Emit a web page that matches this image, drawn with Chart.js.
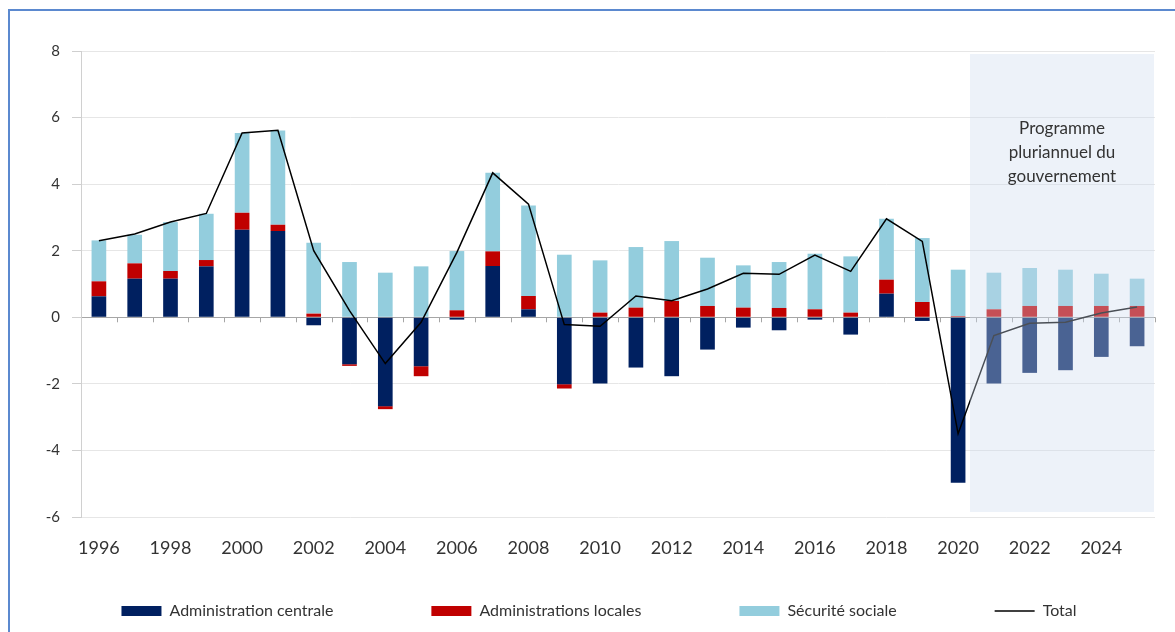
<!DOCTYPE html>
<html lang="fr">
<head>
<meta charset="utf-8">
<title>Solde public par sous-secteur</title>
<script src="https://cdn.jsdelivr.net/npm/chart.js@4.4.1/dist/chart.umd.min.js"></script>
<style>
  html, body { margin: 0; padding: 0; background: #fff; }
  #wrap { position: relative; width: 1175px; height: 632px; overflow: hidden; }
  #frame {
    position: absolute; left: 8px; top: 9px; width: 1200px; height: 700px;
    border-left: 2px solid #5b89cf; border-top: 2px solid #5b89cf;
    pointer-events: none;
  }
  canvas { position: absolute; left: 0; top: 0; }
</style>
</head>
<body>
<div id="wrap">
  <canvas id="chart" width="1175" height="632"></canvas>
  <div id="frame"></div>
</div>
<script>
// ── Data ──
const years = ["1996", "1997", "1998", "1999", "2000", "2001", "2002", "2003", "2004", "2005",
               "2006", "2007", "2008", "2009", "2010", "2011", "2012", "2013", "2014", "2015",
               "2016", "2017", "2018", "2019", "2020", "2021", "2022", "2023", "2024", "2025"];

const adminCentrale = [0.63, 1.16, 1.16, 1.53, 2.63, 2.59, -0.24, -1.41, -2.67, -1.47,
                       -0.07, 1.54, 0.24, -2.01, -1.99, -1.51, -1.77, -0.97, -0.31, -0.39,
                       -0.07, -0.52, 0.71, -0.11, -4.97, -1.99, -1.67, -1.59, -1.19, -0.87];

const adminLocales  = [0.45, 0.46, 0.23, 0.19, 0.51, 0.19, 0.11, -0.05, -0.09, -0.30,
                       0.21, 0.44, 0.40, -0.13, 0.14, 0.29, 0.49, 0.34, 0.29, 0.28,
                       0.24, 0.14, 0.42, 0.46, 0.03, 0.24, 0.34, 0.34, 0.34, 0.34];

const securiteSociale = [1.23, 0.86, 1.47, 1.39, 2.40, 2.83, 2.13, 1.66, 1.34, 1.53,
                         1.78, 2.36, 2.72, 1.88, 1.57, 1.82, 1.80, 1.45, 1.27, 1.38,
                         1.67, 1.69, 1.83, 1.92, 1.40, 1.10, 1.14, 1.09, 0.97, 0.82];

const total = [2.30, 2.50, 2.86, 3.12, 5.54, 5.62, 2.00, 0.20, -1.39, -0.15,
               1.95, 4.34, 3.40, -0.22, -0.27, 0.64, 0.50, 0.85, 1.32, 1.29,
               1.87, 1.38, 2.96, 2.28, -3.50, -0.55, -0.18, -0.15, 0.13, 0.31];

const yTicks = [-6, -4, -2, 0, 2, 4, 6, 8];

const firstProjection = "2021";
const projectionText  = ["Programme", "pluriannuel du", "gouvernement"];

// ── Colours ──
const NAVY  = "#002060";
const RED   = "#c00000";
const AQUA  = "#93cddd";
const TEXT  = "#333333";

// ── Tick marks along the zero line ──
const zeroTicks = {
  id: "zeroTicks",
  beforeDatasetsDraw(chart) {
    const x = chart.scales.x, y = chart.scales.y;
    const y0 = y.getPixelForValue(0);
    const step = x.getPixelForValue(1) - x.getPixelForValue(0);
    const ctx = chart.ctx;
    ctx.save();
    ctx.strokeStyle = "#a6a6a6";
    ctx.lineWidth = 1;
    ctx.beginPath();
    for (let i = 1; i <= years.length; i++) {
      const px = Math.round(x.getPixelForValue(i) - step / 2) + 0.5;
      ctx.moveTo(px, y0);
      ctx.lineTo(px, y0 + 5);
    }
    ctx.stroke();
    ctx.restore();
  }
};

// ── Shaded projection window + its label ──
const projection = {
  id: "projection",
  afterDatasetsDraw(chart) {
    const x = chart.scales.x, y = chart.scales.y;
    const idx = years.indexOf(firstProjection);
    const left  = (x.getPixelForValue(idx - 1) + x.getPixelForValue(idx)) / 2 - 6;
    const right = chart.chartArea.right - 1;
    const top   = y.getPixelForValue(y.max) + 3;
    const bot   = y.getPixelForValue(y.min) - 5;
    const ctx = chart.ctx;
    ctx.save();
    ctx.fillStyle = "rgba(205,218,238,0.36)";
    ctx.fillRect(left, top, right - left, bot - top);
    ctx.fillStyle = TEXT;
    ctx.font = "17px Lato";
    ctx.textAlign = "center";
    ctx.textBaseline = "middle";
    const cx = (left + right) / 2;
    projectionText.forEach((line, i) => {
      ctx.fillText(line, cx, top + 75 + i * 24);
    });
    ctx.restore();
  }
};

// ── Legend: wide spacing on one row, placed under the axis labels ──
const LEGEND_PAD = 98;
const legendLayout = {
  id: "legendLayout",
  beforeUpdate(chart) {
    const lg = chart.legend;
    if (!lg || lg._wrapped) return;
    const fit = lg.fit;
    lg.fit = function () {
      this.maxWidth = 3000;
      fit.call(this);
      this.width = chart.width;
      this.height = 40;
    };
    lg._wrapped = true;
  },
  afterLayout(chart) {
    const lg = chart.legend;
    const centerY = 611, centerX = 599;
    lg.top = centerY - 8 - LEGEND_PAD;
    lg.bottom = chart.height;
    lg.left = centerX - 700;
    lg.right = centerX + 700;
  }
};

new Chart(document.getElementById("chart"), {
  data: {
    labels: years,
    datasets: [
      {
        type: "line",
        label: "Total",
        data: total,
        borderColor: "#000",
        backgroundColor: "#000",
        borderWidth: 1.5,
        pointRadius: 0,
        pointStyle: "line",
        tension: 0,
        order: 0,
      },
      {
        type: "bar",
        label: "Administration centrale",
        data: adminCentrale,
        backgroundColor: NAVY,
        pointStyle: "rect",
        stack: "s",
        order: 1,
      },
      {
        type: "bar",
        label: "Administrations locales",
        data: adminLocales,
        backgroundColor: RED,
        pointStyle: "rect",
        stack: "s",
        order: 1,
      },
      {
        type: "bar",
        label: "Sécurité sociale",
        data: securiteSociale,
        backgroundColor: AQUA,
        pointStyle: "rect",
        stack: "s",
        order: 1,
      },
    ],
  },
  options: {
    responsive: false,
    animation: false,
    layout: { padding: { top: 51, right: 20, bottom: 0, left: 0 } },
    datasets: { bar: { categoryPercentage: 1, barPercentage: 0.41 } },
    plugins: {
      tooltip: { enabled: false },
      legend: {
        position: "bottom",
        labels: {
          // bars first, total line last
          sort: (a, b) => (a.datasetIndex === 0 ? 1 : b.datasetIndex === 0 ? -1 : a.datasetIndex - b.datasetIndex),
          usePointStyle: true,
          pointStyleWidth: 40,
          boxHeight: 10,
          padding: LEGEND_PAD,
          color: TEXT,
          font: { family: "Lato", size: 16 },
        },
      },
    },
    scales: {
      x: {
        stacked: true,
        offset: true,
        grid: { display: false, drawTicks: false },
        border: { display: false },
        ticks: {
          autoSkip: false,
          maxRotation: 0,
          padding: 20,
          color: TEXT,
          font: { family: "Lato", size: 18 },
          callback: (v, i) => (i % 2 === 0 ? years[i] : ""),
        },
        afterFit: (s) => { s.height = 75; },
      },
      y: {
        stacked: true,
        min: -6,
        max: 8,
        afterBuildTicks: (s) => { s.ticks = yTicks.map((v) => ({ value: v })); },
        grid: {
          color: (c) => (c.tick && c.tick.value === 0 ? "#a6a6a6" : "#e6e6e6"),
          tickColor: "#cfcfcf",
          tickLength: 9,
        },
        border: { color: "#d0d0d0" },
        ticks: {
          padding: 12,
          color: TEXT,
          font: { family: "Lato", size: 15 },
        },
        afterFit: (s) => { s.width = 81; },
      },
    },
  },
  plugins: [zeroTicks, projection, legendLayout],
});
</script>
</body>
</html>
